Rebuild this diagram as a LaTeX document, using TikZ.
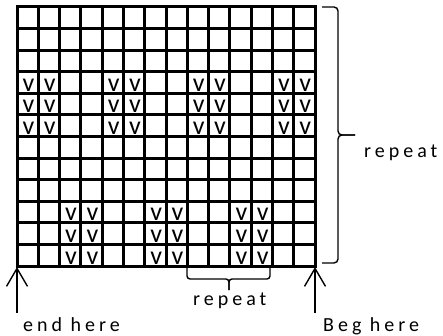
\documentclass[tikz,border=0pt]{standalone}
\usepackage{fontspec}
\setmainfont{Carlito}
\newfontfamily\lblfont[LetterSpace=20]{Carlito}
\usetikzlibrary{arrows.meta}
\begin{document}
\begin{tikzpicture}[x=1pt,y=-1pt,
  gridline/.style={line width=3pt},
  bracestyle/.style={line width=1.4pt, rounded corners=4pt},
  arrowline/.style={line width=1.4pt, -{Straight Barb[length=18pt,width=21pt]}},
  lbl/.style={font=\lblfont\fontsize{20}{24}\selectfont, inner sep=0pt, anchor=base west},
  vmark/.style={font=\fontsize{26}{30}\selectfont, inner sep=0pt, anchor=base, text height=11pt, text depth=0pt, text width=10pt, align=center}
]
\useasboundingbox (0,0) rectangle (443,336);
\fill[white] (0,0) rectangle (443,336);
% grid
\foreach \i in {1,...,13} \draw[gridline] ({17+\i*21.2857},7) -- ({17+\i*21.2857},266);
\foreach \j in {1,...,11} \draw[gridline] (17,{7+\j*21.5833}) -- (315,{7+\j*21.5833});
\draw[gridline] (17,7) rectangle (315,266);
% marks
\foreach \r in {3,4,5} \foreach \c in {0,1,4,5,8,9,12,13}
  \node[vmark] (u-\r-\c) at ({17+(\c+0.5)*21.2857},{7+(\r+1)*21.5833-2}) {v};
\foreach \r in {9,10,11} \foreach \c in {2,3,6,7,10,11}
  \node[vmark] (l-\r-\c) at ({17+(\c+0.5)*21.2857},{7+(\r+1)*21.5833-2}) {v};
% right brace
\draw[bracestyle] (322,7) -- (338,7) -- (338,135) -- (355,135);
\draw[bracestyle] (355,135) -- (338,135) -- (338,263) -- (322,263);
\node[lbl] (rrep) at (364,158) {repeat};
% bottom brace
\draw[bracestyle, rounded corners=3pt] (187,268) -- (187,279) -- (229,279) -- (229,290);
\draw[bracestyle, rounded corners=3pt] (229,290) -- (229,279) -- (270,279) -- (270,268);
\node[lbl] (brep) at (193,305) {repeat};
% arrows
\coordinate (endtip) at (17,267);
\coordinate (endtail) at (17,313);
\coordinate (begtip) at (315,267);
\coordinate (begtail) at (315,313);
\draw[arrowline] (endtail) -- (endtip);
\draw[arrowline] (begtail) -- (begtip);
\node[lbl] (endlbl) at (23,331) {end here};
\node[lbl] (beglbl) at (323,331) {Beg here};
\end{tikzpicture}
\end{document}
